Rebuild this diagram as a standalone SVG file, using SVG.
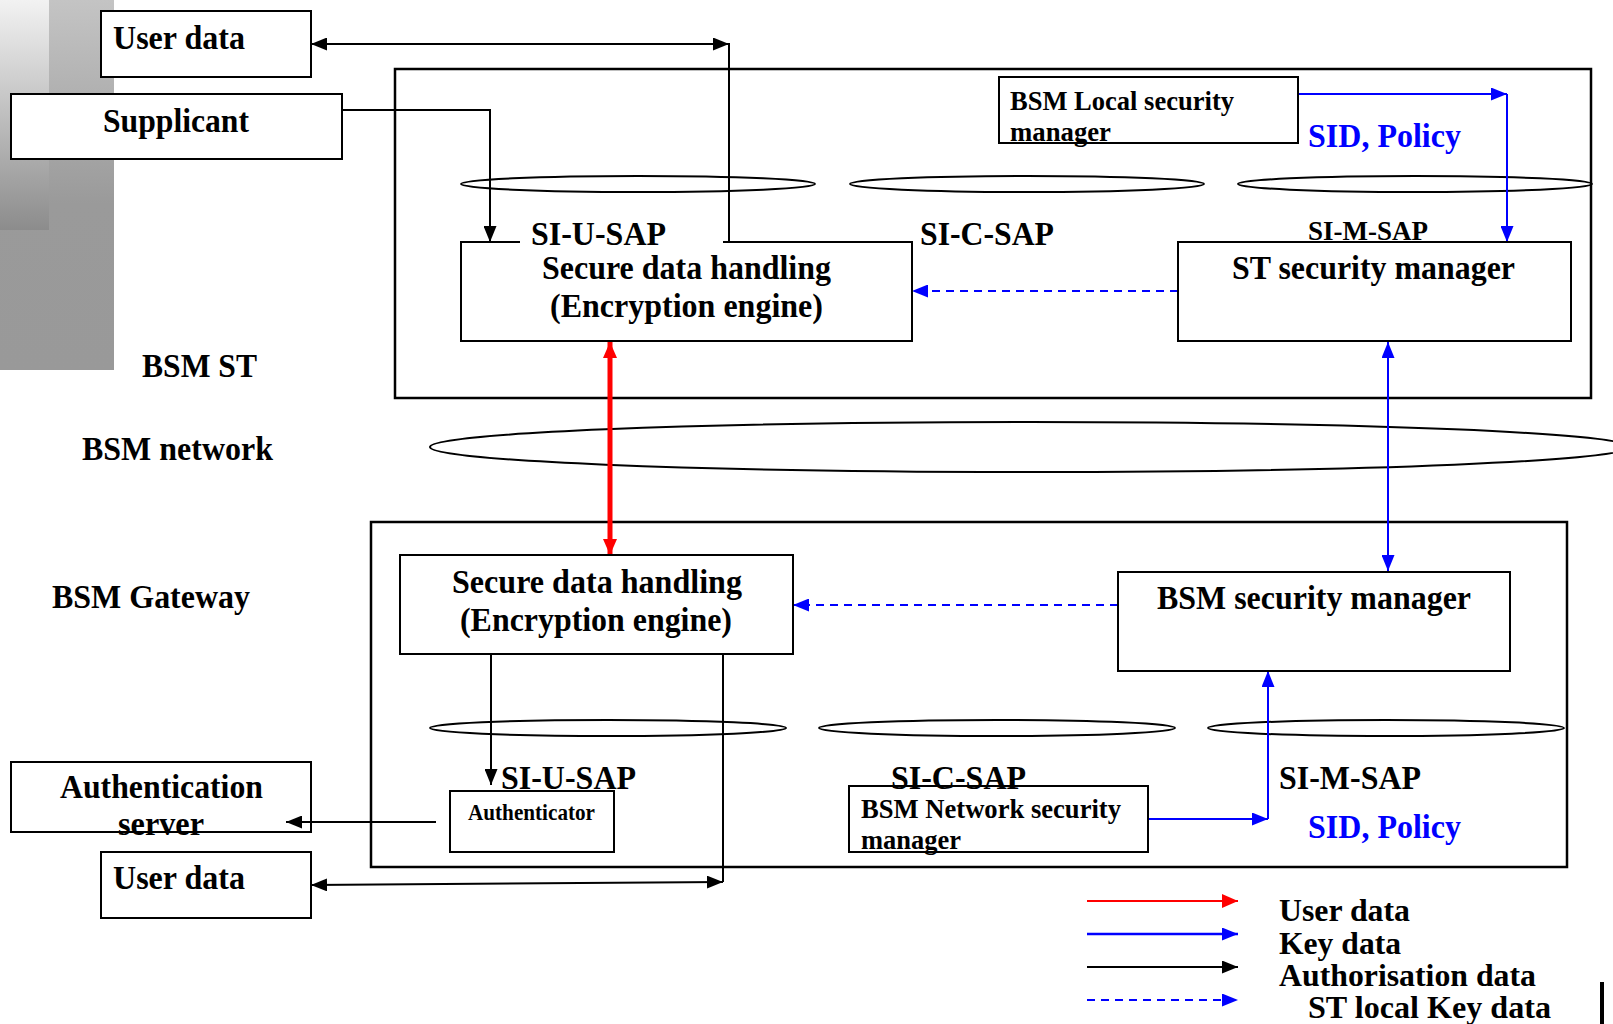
<svg xmlns="http://www.w3.org/2000/svg" width="1613" height="1024" viewBox="0 0 1613 1024">
  <style>
    .box { fill: #fff; stroke: #000; stroke-width: 2; }
    .frame { fill: none; stroke: #000; stroke-width: 2.5; }
    .sap { fill: none; stroke: #000; stroke-width: 2; }
    .t { font-family: "Liberation Serif", "Times New Roman", serif; font-weight: bold; fill: #000; }
    .lg { font-size: 34px; }
    .leg { font-size: 31px; }
    .md { font-size: 28px; }
    .sm { font-size: 24px; }
    .blue { fill: #0000ff; }
    .auth { fill: none; stroke: #000; stroke-width: 2; }
    .key { fill: none; stroke: #0000ff; stroke-width: 2; }
    .local { fill: none; stroke: #0000ff; stroke-width: 2; stroke-dasharray: 8 6; }
    .user { fill: none; stroke: #ff0000; stroke-width: 5; }
  </style>
  <defs>
    <linearGradient id="panelOuter" x1="0" y1="0" x2="0" y2="1">
      <stop offset="0" stop-color="#c4c4c4"/>
      <stop offset="0.55" stop-color="#9a9a9a"/>
      <stop offset="1" stop-color="#999"/>
    </linearGradient>
    <linearGradient id="panelInner" x1="0" y1="0" x2="0" y2="1">
      <stop offset="0" stop-color="#f2f2f2"/>
      <stop offset="1" stop-color="#8c8c8c"/>
    </linearGradient>
    <marker id="ahBlack" viewBox="0 0 16 13" refX="16" refY="6.5" markerWidth="16" markerHeight="13" markerUnits="userSpaceOnUse" orient="auto-start-reverse">
      <path d="M0,0 L16,6.5 L0,13 Z" fill="#000"/>
    </marker>
    <marker id="ahBlue" viewBox="0 0 16 13" refX="16" refY="6.5" markerWidth="16" markerHeight="13" markerUnits="userSpaceOnUse" orient="auto-start-reverse">
      <path d="M0,0 L16,6.5 L0,13 Z" fill="#0000ff"/>
    </marker>
    <marker id="ahRed" viewBox="0 0 16 14" refX="16" refY="7" markerWidth="16" markerHeight="14" markerUnits="userSpaceOnUse" orient="auto-start-reverse">
      <path d="M0,0 L16,7 L0,14 Z" fill="#ff0000"/>
    </marker>
  </defs>

  <!-- decorative grey panel at the top left -->
  <g id="panel">
    <rect x="0" y="0" width="114" height="370" fill="url(#panelOuter)"/>
    <rect x="0" y="0" width="49" height="230" fill="url(#panelInner)"/>
  </g>

  <!-- section labels -->
  <g id="labels">
    <text class="t lg" x="142" y="377" textLength="115" lengthAdjust="spacingAndGlyphs">BSM ST</text>
    <text class="t lg" x="82" y="460" textLength="191" lengthAdjust="spacingAndGlyphs">BSM network</text>
    <text class="t lg" x="52" y="608" textLength="198" lengthAdjust="spacingAndGlyphs">BSM Gateway</text>
  </g>

  <!-- BSM ST frame and its SAPs -->
  <g id="st-frame">
    <rect class="frame" x="395" y="69" width="1196" height="329"/>
    <ellipse class="sap" cx="638" cy="184" rx="177" ry="8"/>
    <ellipse class="sap" cx="1027" cy="184" rx="177" ry="8"/>
    <ellipse class="sap" cx="1415" cy="184" rx="177" ry="8"/>
  </g>

  <!-- BSM network -->
  <g id="network">
    <ellipse class="sap" cx="1030" cy="447" rx="600" ry="25"/>
  </g>

  <!-- BSM gateway frame and its SAPs -->
  <g id="gw-frame">
    <rect class="frame" x="371" y="522" width="1196" height="345"/>
    <ellipse class="sap" cx="608" cy="728" rx="178" ry="8"/>
    <ellipse class="sap" cx="997" cy="728" rx="178" ry="8"/>
    <ellipse class="sap" cx="1386" cy="728" rx="178" ry="8"/>
  </g>

  <!-- authentication server sits under the connector that reaches into it -->
  <g id="authentication-server">
    <rect class="box" x="11" y="762" width="300" height="70"/>
    <text class="t lg" x="60" y="798" textLength="203" lengthAdjust="spacingAndGlyphs">Authentication</text>
    <text class="t lg" x="118" y="835" textLength="86" lengthAdjust="spacingAndGlyphs">server</text>
  </g>

  <!-- connectors -->
  <g id="connectors">
    <!-- user data between top box and ST encryption engine -->
    <path class="auth" d="M729,242 L729,44 L311,44" marker-end="url(#ahBlack)"/>
    <path class="auth" d="M712,44 L729,44" marker-end="url(#ahBlack)"/>
    <!-- supplicant to ST encryption engine -->
    <path class="auth" d="M342,110 L490,110 L490,242" marker-end="url(#ahBlack)"/>
    <!-- local security manager to ST security manager -->
    <path class="key" d="M1298,94 L1507,94" marker-end="url(#ahBlue)"/>
    <path class="key" d="M1507,94 L1507,242" marker-end="url(#ahBlue)"/>
    <!-- ST local key data -->
    <path class="local" d="M1178,291 L912,291" marker-end="url(#ahBlue)"/>
    <!-- user data across the network -->
    <path class="user" d="M610,342 L610,555" marker-start="url(#ahRed)" marker-end="url(#ahRed)"/>
    <!-- key data across the network -->
    <path class="key" d="M1388,342 L1388,571" marker-start="url(#ahBlue)" marker-end="url(#ahBlue)"/>
    <!-- gateway local key data -->
    <path class="local" d="M1118,605 L793,605" marker-end="url(#ahBlue)"/>
    <!-- gateway encryption engine to authenticator -->
    <path class="auth" d="M491,654 L491,785" marker-end="url(#ahBlack)"/>
    <!-- authenticator to authentication server -->
    <path class="auth" d="M436,822 L286,822" marker-end="url(#ahBlack)"/>
    <!-- gateway user data -->
    <path class="auth" d="M723,641 L723,882"/>
    <path class="auth" d="M311,885 L723,882" marker-start="url(#ahBlack)" marker-end="url(#ahBlack)"/>
    <!-- network security manager to BSM security manager -->
    <path class="key" d="M1148,819 L1268,819" marker-end="url(#ahBlue)"/>
    <path class="key" d="M1268,819 L1268,671" marker-end="url(#ahBlue)"/>
  </g>

  <!-- nodes -->
  <g id="user-data-top">
    <rect class="box" x="101" y="11" width="210" height="66"/>
    <text class="t lg" x="113" y="49" textLength="132" lengthAdjust="spacingAndGlyphs">User data</text>
  </g>

  <g id="supplicant">
    <rect class="box" x="11" y="94" width="331" height="65"/>
    <text class="t lg" x="103" y="132" textLength="146" lengthAdjust="spacingAndGlyphs">Supplicant</text>
  </g>

  <g id="local-security-manager">
    <rect class="box" x="999" y="77" width="299" height="66"/>
    <text class="t md" x="1010" y="110" textLength="224" lengthAdjust="spacingAndGlyphs">BSM Local security</text>
    <text class="t md" x="1010" y="141" textLength="101" lengthAdjust="spacingAndGlyphs">manager</text>
  </g>
  <text class="t lg blue" x="1308" y="147" textLength="153" lengthAdjust="spacingAndGlyphs">SID, Policy</text>

  <g id="st-encryption">
    <rect class="box" x="461" y="242" width="451" height="99"/>
    <rect x="520" y="238" width="203" height="8" fill="#fff"/>
    <text class="t lg" x="542" y="279" textLength="289" lengthAdjust="spacingAndGlyphs">Secure data handling</text>
    <text class="t lg" x="550" y="317" textLength="273" lengthAdjust="spacingAndGlyphs">(Encryption engine)</text>
  </g>
  <text class="t lg" x="531" y="245" textLength="135" lengthAdjust="spacingAndGlyphs">SI-U-SAP</text>
  <text class="t lg" x="920" y="245" textLength="134" lengthAdjust="spacingAndGlyphs">SI-C-SAP</text>
  <text class="t md" x="1308" y="240" textLength="120" lengthAdjust="spacingAndGlyphs">SI-M-SAP</text>

  <g id="st-security-manager">
    <rect class="box" x="1178" y="242" width="393" height="99"/>
    <text class="t lg" x="1232" y="279" textLength="283" lengthAdjust="spacingAndGlyphs">ST security manager</text>
  </g>

  <g id="gw-encryption">
    <rect class="box" x="400" y="555" width="393" height="99"/>
    <text class="t lg" x="452" y="593" textLength="290" lengthAdjust="spacingAndGlyphs">Secure data handling</text>
    <text class="t lg" x="460" y="631" textLength="272" lengthAdjust="spacingAndGlyphs">(Encryption engine)</text>
  </g>

  <g id="bsm-security-manager">
    <rect class="box" x="1118" y="572" width="392" height="99"/>
    <text class="t lg" x="1157" y="609" textLength="314" lengthAdjust="spacingAndGlyphs">BSM security manager</text>
  </g>

  <text class="t lg" x="501" y="789" textLength="135" lengthAdjust="spacingAndGlyphs">SI-U-SAP</text>
  <g id="authenticator">
    <rect class="box" x="450" y="791" width="164" height="61"/>
    <text class="t sm" x="468" y="820" textLength="127" lengthAdjust="spacingAndGlyphs">Authenticator</text>
  </g>

  <text class="t lg" x="891" y="789" textLength="135" lengthAdjust="spacingAndGlyphs">SI-C-SAP</text>
  <g id="network-security-manager">
    <rect class="box" x="849" y="786" width="299" height="66" fill-opacity="0"/>
    <text class="t md" x="861" y="818" textLength="260" lengthAdjust="spacingAndGlyphs">BSM Network security</text>
    <text class="t md" x="861" y="849" textLength="100" lengthAdjust="spacingAndGlyphs">manager</text>
  </g>
  <text class="t lg" x="1279" y="789" textLength="142" lengthAdjust="spacingAndGlyphs">SI-M-SAP</text>
  <text class="t lg blue" x="1308" y="838" textLength="153" lengthAdjust="spacingAndGlyphs">SID, Policy</text>

  <g id="user-data-bottom">
    <rect class="box" x="101" y="852" width="210" height="66"/>
    <text class="t lg" x="113" y="889" textLength="132" lengthAdjust="spacingAndGlyphs">User data</text>
  </g>

  <!-- legend -->
  <g id="legend">
    <path d="M1087,901 L1238,901" stroke="#ff0000" stroke-width="2" marker-end="url(#ahRed)"/>
    <path d="M1087,934 L1238,934" stroke="#0000ff" stroke-width="2.5" marker-end="url(#ahBlue)"/>
    <path d="M1087,967 L1238,967" stroke="#000" stroke-width="2" marker-end="url(#ahBlack)"/>
    <path d="M1087,1000 L1238,1000" stroke="#0000ff" stroke-width="2" stroke-dasharray="8 6" marker-end="url(#ahBlue)"/>
    <text class="t leg" x="1279" y="921" textLength="131" lengthAdjust="spacingAndGlyphs">User data</text>
    <text class="t leg" x="1279" y="954" textLength="122" lengthAdjust="spacingAndGlyphs">Key data</text>
    <text class="t leg" x="1279" y="986" textLength="257" lengthAdjust="spacingAndGlyphs">Authorisation data</text>
    <text class="t leg" x="1308" y="1018" textLength="243" lengthAdjust="spacingAndGlyphs">ST local Key data</text>
  </g>

  <!-- edge mark at the bottom right -->
  <rect x="1600" y="982" width="4" height="42" fill="#000"/>
</svg>
